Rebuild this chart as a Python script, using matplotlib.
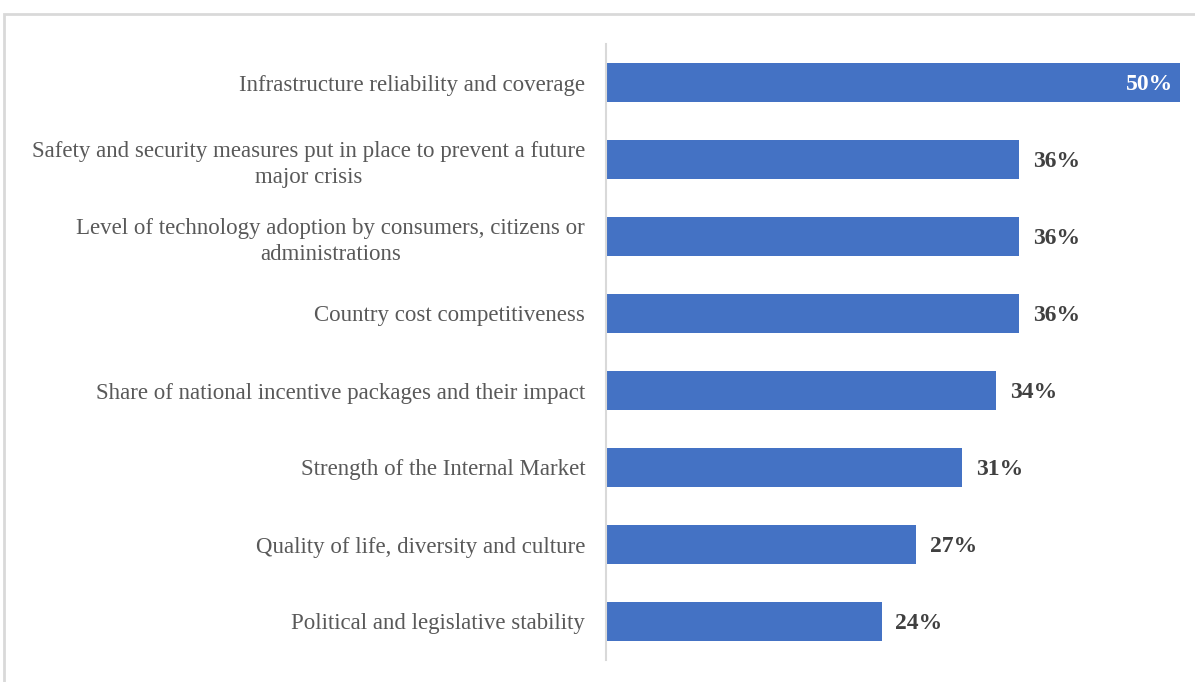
import matplotlib.pyplot as plt
from matplotlib.patches import Rectangle

factors = ['Infrastructure reliability and coverage',
           'Safety and security measures put in place to prevent a future\nmajor crisis',
           'Level of technology adoption by consumers, citizens or\nadministrations',
           'Country cost competitiveness',
           'Share of national incentive packages and their impact',
           'Strength of the Internal Market',
           'Quality of life, diversity and culture',
           'Political and legislative stability']
shares = [50, 36, 36, 36, 34, 31, 27, 24]

bar_color = '#4472C4'
serif = ['Liberation Serif', 'DejaVu Serif']

fig = plt.figure(figsize=(11.95, 6.82), dpi=100)

# light frame, runs off the right and bottom edges like the screenshot
fig.patches.append(Rectangle((4/1195, -0.1), 1.2, 0.1 + (682-14)/682,
                             transform=fig.transFigure, fill=False,
                             edgecolor='#d9d9d9', linewidth=2))

ax = fig.add_axes([606/1195, 1-660/682, 574/1195, 616/682])

ypos = range(len(factors))
ax.barh(ypos, shares, height=0.5, color=bar_color)
ax.set_ylim(len(factors)-0.5, -0.5)
ax.set_xlim(0, 50)

ax.set_yticks(list(ypos))
ax.set_yticklabels(factors, family=serif, fontsize=16.5, color='#595959',
                   multialignment='center', linespacing=1.3)
ax.tick_params(axis='y', length=0, pad=15)
ax.set_xticks([])

for s in ['top', 'right', 'bottom']:
    ax.spines[s].set_visible(False)
ax.spines['left'].set_color('#d9d9d9')
ax.spines['left'].set_linewidth(1.5)

for i, v in enumerate(shares):
    if v == max(shares):
        ax.annotate(f'{v}%', (v, i), xytext=(-5, -1.5), textcoords='offset points',
                    ha='right', va='center', family=serif, fontsize=17,
                    fontweight='bold', color='white')
    else:
        ax.annotate(f'{v}%', (v, i), xytext=(10, -1.5), textcoords='offset points',
                    ha='left', va='center', family=serif, fontsize=17,
                    fontweight='bold', color='#404040')

fig.savefig('out.png', dpi=100)
